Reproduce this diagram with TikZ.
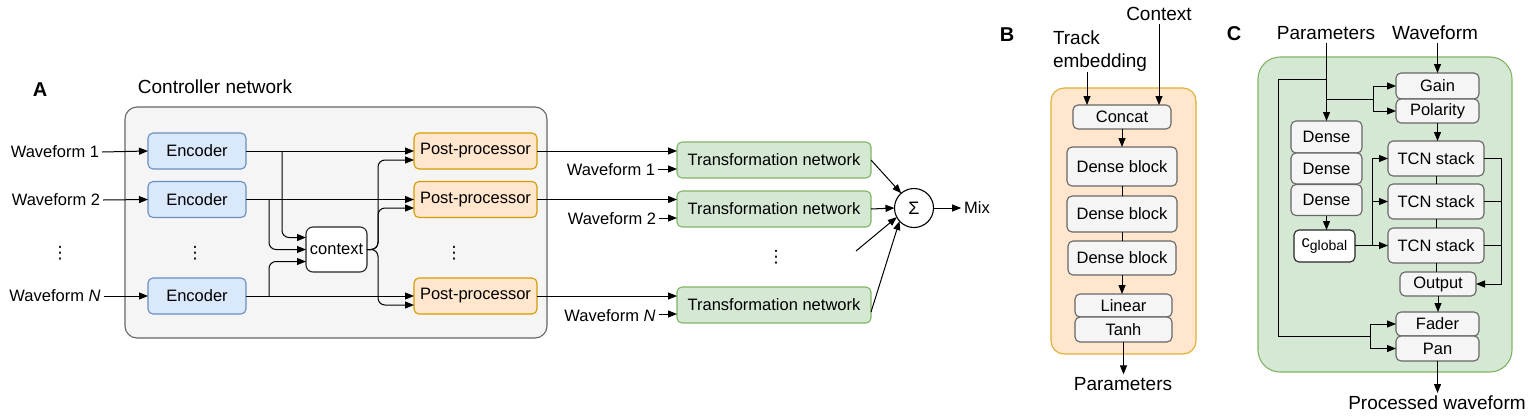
\documentclass[tikz,border=0pt]{standalone}
\usepackage{fontspec}
\setmainfont{Liberation Sans}
\newfontfamily\dejavu{DejaVu Sans}
\usetikzlibrary{arrows.meta,calc}
\definecolor{encF}{HTML}{DAE8FC}\definecolor{encD}{HTML}{6C8EBF}
\definecolor{ppF}{HTML}{FFE6CC}\definecolor{ppD}{HTML}{D79B00}
\definecolor{tnF}{HTML}{D5E8D4}\definecolor{tnD}{HTML}{82B366}
\definecolor{grF}{HTML}{F5F5F5}\definecolor{grD}{HTML}{666666}
\begin{document}
\begin{tikzpicture}[x=1pt,y=-1pt,
  every node/.style={inner sep=3pt, outer sep=0pt},
  base/.style={font=\fontsize{16.5}{19}\selectfont},
  big/.style={font=\fontsize{19}{23}\selectfont},
  panel/.style={font=\fontsize{20}{24}\selectfont\bfseries},
  vdotsnode/.style={font=\dejavu\fontsize{17}{19}\selectfont, inner sep=0pt},
  blk/.style={base, draw, rounded corners=5pt, line width=1.1pt, align=center},
  encbox/.style={blk, fill=encF, draw=encD, minimum width=98pt, minimum height=36pt},
  ppbox/.style={blk, fill=ppF, draw=ppD, minimum width=123pt, minimum height=36pt},
  tnbox/.style={blk, fill=tnF, draw=tnD, minimum width=194pt, minimum height=36pt},
  gbox/.style={blk, fill=grF, draw=grD},
  wbox/.style={blk, fill=white, draw=black!85},
  container/.style={draw, line width=1.1pt, inner sep=0pt},
  ln/.style={line width=1pt, draw=black},
  arr/.style={ln, -{Triangle[length=9pt,width=7pt]}},
  rc/.style={rounded corners=7pt},
]
\useasboundingbox (0,0) rectangle (1536,418);

%% ---------------- Panel A ----------------
\node[panel] (labA) at (40,90) {A};
\node[big] (ctrltitle) at (215,87) {Controller network};
\node[container, fill=grF, draw=grD, rounded corners=12pt, minimum width=422pt, minimum height=231pt] (ctrl) at (336,222.5) {};

\node[base] (w1) at (55,152) {Waveform 1};
\node[base] (w2) at (56,200) {Waveform 2};
\node[base] (wN) at (55,296) {Waveform \textit{N}};
\node[vdotsnode] (dA1) at (60,253) {⋮};

\node[encbox] (enc1) at (197,151) {Encoder};
\node[encbox] (enc2) at (197,199.5) {Encoder};
\node[encbox] (encN) at (197,296) {Encoder};
\node[vdotsnode] (dA2) at (195,253) {⋮};

\node[wbox, minimum width=61pt, minimum height=45pt, rounded corners=7pt] (ctx) at (336.5,249.5) {context};

\node[ppbox] (pp1) at (475.5,151) {Post-processor};
\node[ppbox] (pp2) at (475.5,199.5) {Post-processor};
\node[ppbox] (ppN) at (475.5,296) {Post-processor};
\node[vdotsnode] (dA3) at (454,253) {⋮};

\node[tnbox] (tn1) at (774,160) {Transformation network};
\node[tnbox] (tn2) at (774,209) {Transformation network};
\node[tnbox] (tnN) at (774,305) {Transformation network};
\node[vdotsnode] (dA4) at (776,257) {⋮};

\node[base] (w1b) at (611,170) {Waveform 1};
\node[base] (w2b) at (612,219) {Waveform 2};
\node[base] (wNb) at (610,316) {Waveform \textit{N}};

\node[draw, circle, line width=1.1pt, fill=white, minimum size=39pt, inner sep=0pt,
      font=\fontsize{18}{20}\selectfont] (sum) at (914,208) {Σ};
\node[base] (mix) at (977,208) {Mix};
\coordinate (free) at (856,251);

% inputs
\draw[arr] (w1.east) -- (enc1.west);
\draw[arr] (w2.east) -- (enc2.west);
\draw[arr] (wN.east) -- (encN.west);
% encoder -> post-processor
\draw[arr] (enc1.east) -- (pp1.west);
\draw[arr] (enc2.east) -- (pp2.west);
\draw[arr] (encN.east) -- (ppN.west);
% encoder -> context
\coordinate (j1) at (282,151);
\coordinate (j2) at (269,199.5);
\coordinate (j3) at (269,296);
\draw[arr, rc] (j1) |- ($(ctx.west)+(0,-12)$);
\draw[arr, rc] (j2) |- (ctx.west);
\draw[arr, rc] (j3) |- ($(ctx.west)+(0,12)$);
% context -> post-processors
\coordinate (co) at (378,249.5);
\draw[arr, rc] (ctx.east) -- (co) |- ($(pp1.west)+(0,9)$);
\draw[arr, rc] (ctx.east) -- (co) |- ($(pp2.west)+(0,8.5)$);
\draw[arr, rc] (ctx.east) -- (co) |- ($(ppN.west)+(0,9)$);
% post-processor -> transformation network
\draw[arr] (pp1.east) -- (tn1.west |- pp1.east);
\draw[arr] (pp2.east) -- (tn2.west |- pp2.east);
\draw[arr] (ppN.east) -- (tnN.west |- ppN.east);
\draw[arr] (w1b.east |- {$(tn1.west)+(0,9)$}) -- ($(tn1.west)+(0,9)$);
\draw[arr] (w2b.east |- {$(tn2.west)+(0,9)$}) -- ($(tn2.west)+(0,9)$);
\draw[arr] (wNb.east |- {$(tnN.west)+(0,9)$}) -- ($(tnN.west)+(0,9)$);
% to sum
\draw[arr] (tn1.east) -- (sum.131);
\draw[arr] (tn2.east) -- (sum.west);
\draw[arr] (free) -- (sum.208);
\draw[arr] ($(tnN.east)+(0,7)$) -- (sum.222);
\draw[arr] (sum.east) -- (mix.west);

%% ---------------- Panel B ----------------
\node[panel] (labB) at (1007,35) {B};
\node[container, fill=ppF, draw=ppD!80, rounded corners=13pt, minimum width=145pt, minimum height=266pt] (bbox) at (1123.5,221) {};
\node[big, anchor=west, align=left, inner sep=0pt] (track) at (1053,51.5) {Track\\embedding};
\node[big] (ctxB) at (1159,14) {Context};
\node[gbox, minimum width=98pt, minimum height=24pt] (concat) at (1122,117) {Concat};
\node[gbox, minimum width=110pt, minimum height=39pt] (db1) at (1122,166.5) {Dense block};
\node[gbox, minimum width=110pt, minimum height=36pt] (db2) at (1122,214) {Dense block};
\node[gbox, minimum width=108pt, minimum height=34pt] (db3) at (1122,258) {Dense block};
\node[gbox, minimum width=97pt, minimum height=23pt] (lin) at (1123.5,305.5) {Linear};
\node[gbox, minimum width=97pt, minimum height=25pt] (tanh) at (1123.5,329.5) {Tanh};
\node[big] (paramB) at (1123,384) {Parameters};

\coordinate (tkin) at (1087,105);
\draw[arr] (track.south -| tkin) -- (tkin);
\draw[arr] (ctxB.south) -- (ctxB.south |- concat.north);
\draw[arr] (concat.south) -- (db1.north);
\draw[ln] (db1.south) -- (db2.north);
\draw[ln] (db2.south) -- (db3.north);
\draw[arr] (db3.south) -- (db3.south |- lin.north);
\draw[arr] (tanh.south) -- (tanh.south |- paramB.north);

%% ---------------- Panel C ----------------
\node[panel] (labC) at (1234,34) {C};
\node[container, fill=tnF, draw=tnD, rounded corners=22pt, minimum width=254pt, minimum height=315pt] (cbox) at (1385,214.5) {};
\node[big] (paramC) at (1326,33) {Parameters};
\node[big] (waveC) at (1435,33) {Waveform};
\node[big] (procC) at (1437,403) {Processed waveform};

\node[gbox, minimum width=83pt, minimum height=26pt] (gain) at (1437.5,86) {Gain};
\node[gbox, minimum width=83pt, minimum height=24pt] (pol) at (1437.5,111) {Polarity};
\node[gbox, minimum width=71pt, minimum height=32pt] (dn1) at (1326.5,137) {Dense};
\node[gbox, minimum width=71pt, minimum height=31pt] (dn2) at (1326.5,168.5) {Dense};
\node[gbox, minimum width=71pt, minimum height=31pt] (dn3) at (1326.5,200) {Dense};
\node[wbox, minimum width=61pt, minimum height=32pt] (cg) at (1324.5,246) {c\raisebox{-0.35ex}{\fontsize{14}{16}\selectfont global}};
\node[gbox, minimum width=96pt, minimum height=35pt] (tcn1) at (1436,158.5) {TCN stack};
\node[gbox, minimum width=96pt, minimum height=35pt] (tcn2) at (1436,201.5) {TCN stack};
\node[gbox, minimum width=96pt, minimum height=35pt] (tcn3) at (1436,245.5) {TCN stack};
\node[gbox, minimum width=76pt, minimum height=24pt] (outp) at (1438,284) {Output};
\node[gbox, minimum width=83pt, minimum height=24pt] (fader) at (1437.5,324) {Fader};
\node[gbox, minimum width=83pt, minimum height=25pt] (pan) at (1437.5,348.5) {Pan};

\draw[arr] (paramC.south -| dn1.north) -- (dn1.north);
\coordinate (pj1) at (1326.5,79);
\coordinate (fk1) at (1370,336);
\draw[arr] (pj1) -- (1278,79) |- (fk1) |- (fader.west);
\draw[arr] (fk1) |- (pan.west);
\coordinate (pj2) at (1326.5,99);
\coordinate (fk2) at (1373,99);
\draw[ln] (pj2) -- (fk2);
\draw[arr] (fk2) |- (gain.west);
\draw[arr] (fk2) |- (pol.west);
\draw[arr] (waveC.south -| gain.north) -- (gain.north);
\draw[arr] (pol.south) -- (pol.south |- tcn1.north);
\draw[ln] (tcn1.south) -- (tcn2.north);
\draw[ln] (tcn2.south) -- (tcn3.north);
\draw[ln] (tcn3.south) -- (tcn3.south |- outp.north);
\draw[arr] (outp.south) -- (outp.south |- fader.north);
\draw[arr] (pan.south) -- (pan.south |- procC.north);
\draw[arr] (dn3.south) -- (dn3.south |- cg.north);
\coordinate (fk3) at (1372,245.5);
\draw[arr] (cg.east |- tcn3.west) -- (tcn3.west);
\draw[arr] (fk3) |- (tcn1.west);
\draw[arr] (fk3) |- (tcn2.west);
\coordinate (rx) at (1501,284);
\draw[arr] (tcn1.east) -| (rx) -- (outp.east);
\draw[ln] (tcn2.east) -- (tcn2.east -| rx);
\draw[ln] (tcn3.east) -- (tcn3.east -| rx);
\end{tikzpicture}
\end{document}
